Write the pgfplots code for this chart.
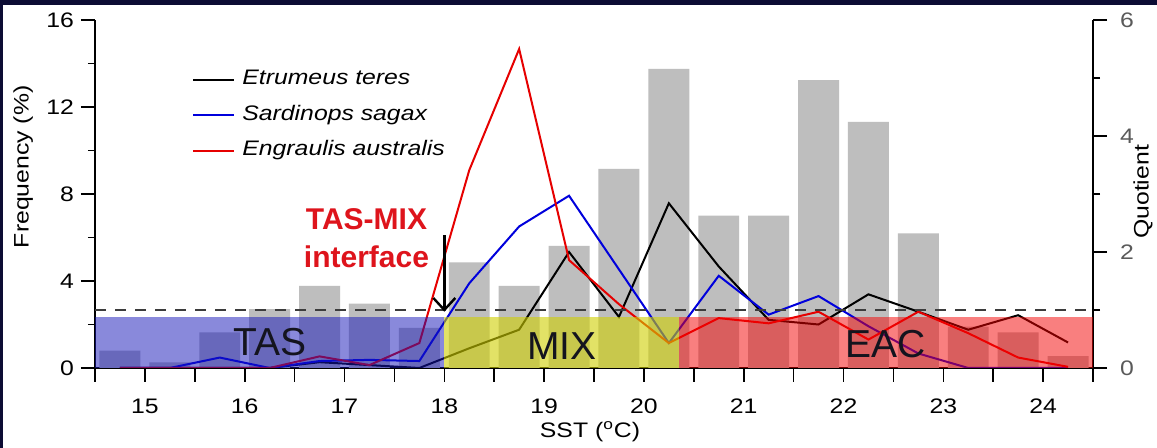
\documentclass[border=0pt]{standalone}
\usepackage{pgfplots}
\pgfplotsset{compat=1.18}
\usepackage{pgfplotstable}
\usepackage{fontspec}
\setmainfont{Liberation Sans}[FakeStretch=1.18]
\newfontfamily\annfont{Liberation Sans}
\usetikzlibrary{arrows.meta}
\definecolor{navy}{RGB}{12,12,52}
\definecolor{bargray}{RGB}{190,190,190}
\definecolor{lblue}{RGB}{0,0,220}
\definecolor{lred}{RGB}{230,0,0}
\definecolor{tasblue}{RGB}{20,20,185}
\definecolor{mixyellow}{RGB}{208,208,0}
\definecolor{eacred}{RGB}{245,0,0}
\definecolor{annred}{RGB}{222,20,28}
\definecolor{dashgray}{RGB}{60,60,60}
\definecolor{rtick}{RGB}{90,90,90}

\pgfplotstableread{
x     bar    black  blue  red
14.75 0.80   0      0     0
15.25 0.26   0      0     0
15.75 1.64   0      0.18  0
16.25 2.71   0      0     0
16.75 3.78   0.10   0.12  0.20
17.25 2.96   0.05   0.14  0.05
17.75 1.85   0      0.12  0.43
18.25 4.86   0.34   1.46  3.41
18.75 3.78   0.66   2.44  5.50
19.25 5.62   2.00   2.97  1.86
19.75 9.15   0.88   1.70  1.10
20.25 13.75  2.84   0.43  0.43
20.75 7.00   1.75   1.59  0.86
21.25 7.00   0.83   0.92  0.77
21.75 13.24  0.75   1.24  0.97
22.25 11.32  1.27   0.72  0.49
22.75 6.19   0.97   0.25  0.97
23.25 1.90   0.66   0     0.60
23.75 1.64   0.91   0     0.18
24.25 0.55   0.44   0     0.02
}\datatable

\pgfplotsset{
  base/.style={
    at={(47.5pt,40pt)}, anchor=south west,
    scale only axis, width=499pt, height=174pt,
    xmin=14.5, xmax=24.5,
    tick align=outside,
    major tick length=7pt, minor tick length=3.5pt,
    axis line style={line width=0.8pt, black},
    every tick/.style={line width=0.8pt, black},
    tick label style={font=\fontsize{10.5}{12}\selectfont},
    /pgf/number format/assume math mode=true,
    label style={font=\fontsize{10.5}{12}\selectfont},
  }
}

\begin{document}
\begin{tikzpicture}
\path[use as bounding box, fill=white] (0,0) rectangle (578.5pt,224pt);
\fill[navy] (0,221.5pt) rectangle (578.5pt,224pt);
\fill[navy] (0,0) rectangle (1.5pt,224pt);

\begin{axis}[base,
  ymin=0, ymax=16,
  axis x line*=bottom, axis y line*=left,
  xtick={14.5,15,...,24.5},
  xticklabels={{},15,{},16,{},17,{},18,{},19,{},20,{},21,{},22,{},23,{},24,{}},
  xticklabel style={yshift=-5pt},
  ytick={0,4,8,12,16}, minor ytick={2,6,10,14},
  xlabel={SST (\textsuperscript{o}C)},
  ylabel={Frequency (\%)},
  xlabel style={at={(axis description cs:0.496,-0.183)}, anchor=center},
  ylabel style={at={(axis description cs:-0.072,0.578)}, anchor=center},
]
\addplot[ybar, bar width=0.41, fill=bargray, draw=none] table[x=x,y=bar]{\datatable};
\end{axis}

\begin{axis}[base,
  ymin=0, ymax=6,
  axis y line*=right, axis x line=none,
  ytick={0,2,4,6}, minor ytick={1,3,5},
  yticklabel style={color=rtick, xshift=3pt},
  ylabel={Quotient},
  ylabel style={at={(axis description cs:1.050,0.506)}, anchor=center},
  legend style={at={(rel axis cs:0.0972,0.864)}, anchor=north west,
    draw=none, fill=none, inner sep=0pt, row sep=5.75pt, column sep=2.5pt,
    font=\itshape\fontsize{10.5}{12}\selectfont,
    nodes={inner sep=1pt, text height=7.5pt, text depth=2.5pt}},
  legend cell align=left,
  legend image code/.code={\draw[#1] (0pt,0pt) -- (20.5pt,0pt);},
]
\addplot[black, line width=1pt] table[x=x,y=black]{\datatable};
\addlegendentry{Etrumeus teres}
\addplot[lblue, line width=1pt] table[x=x,y=blue]{\datatable};
\addlegendentry{Sardinops sagax}
\addplot[lred, line width=1pt] table[x=x,y=red]{\datatable};
\addlegendentry{Engraulis australis}

\addplot[dashgray, line width=0.6pt, dash pattern=on 5.5pt off 4.5pt, forget plot] coordinates {(14.5,1) (24.5,1)};

\addplot[fill=tasblue, fill opacity=0.5, draw=none, forget plot] coordinates {(14.5,0.885) (18,0.885)} \closedcycle;
\addplot[fill=mixyellow, fill opacity=0.6, draw=none, forget plot] coordinates {(18,0.885) (20.35,0.885)} \closedcycle;
\addplot[fill=eacred, fill opacity=0.5, draw=none, forget plot] coordinates {(20.35,0.885) (24.5,0.885)} \closedcycle;

\node[font=\annfont\fontsize{19.5}{22}\selectfont, text={rgb,255:red,20;green,20;blue,30}] at (axis cs:16.25,0.44) {TAS};
\node[font=\annfont\fontsize{19.5}{22}\selectfont, text={rgb,255:red,20;green,20;blue,30}] at (axis cs:19.18,0.38) {MIX};
\node[font=\annfont\fontsize{19.5}{22}\selectfont, text={rgb,255:red,20;green,20;blue,30}] at (axis cs:22.42,0.41) {EAC};

\node[font=\annfont\bfseries\fontsize{15}{18.9}\selectfont, text=annred, align=center] at (axis cs:17.22,2.24) {TAS-MIX\\interface};
\draw[line width=1.2pt, -{Straight Barb[length=6pt, width=11pt]}] (axis cs:18,2.29) -- (axis cs:18,0.97);
\end{axis}
\end{tikzpicture}
\end{document}
